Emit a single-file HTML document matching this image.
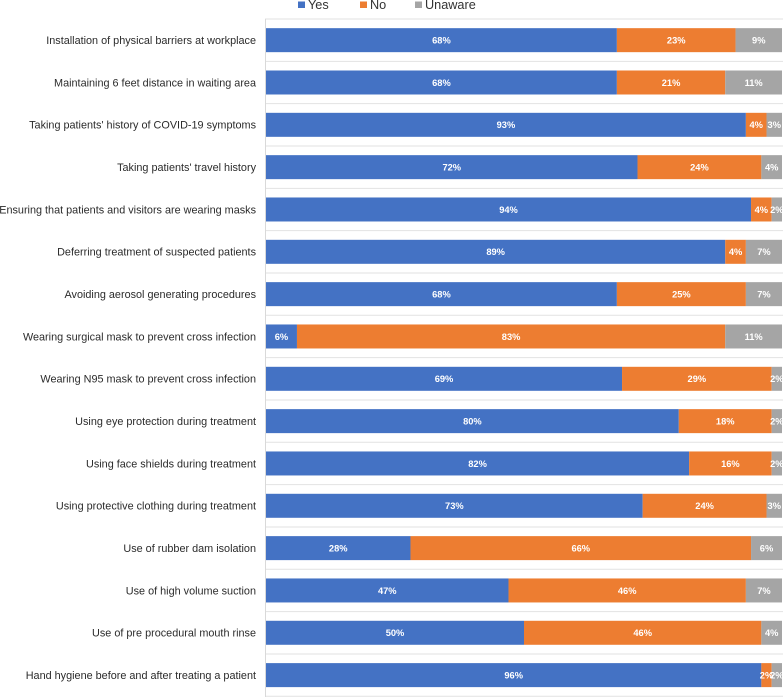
<!DOCTYPE html>
<html>
<head>
<meta charset="utf-8">
<style>
html,body{margin:0;padding:0;background:#fff;width:783px;height:697px;overflow:hidden}
svg{display:block;font-family:"Liberation Sans",sans-serif}
</style>
</head>
<body>
<svg id="chart" width="783" height="697" viewBox="0 0 783 697" xmlns="http://www.w3.org/2000/svg"></svg>
<script>
const categories = [
  "Installation of physical barriers at workplace",
  "Maintaining 6 feet distance in waiting area",
  "Taking patients' history of COVID-19 symptoms",
  "Taking patients' travel history",
  "Ensuring that patients and visitors are wearing masks",
  "Deferring treatment of suspected patients",
  "Avoiding aerosol generating procedures",
  "Wearing surgical mask to prevent cross infection",
  "Wearing N95 mask to prevent cross infection",
  "Using eye protection during treatment",
  "Using face shields during treatment",
  "Using protective clothing during treatment",
  "Use of rubber dam isolation",
  "Use of high volume suction",
  "Use of pre procedural mouth rinse",
  "Hand hygiene before and after treating a patient"
];
const seriesNames = ["Yes", "No", "Unaware"];
const yesValues = [68, 68, 93, 72, 94, 89, 68, 6, 69, 80, 82, 73, 28, 47, 50, 96];
const noValues = [23, 21, 4, 24, 4, 4, 25, 83, 29, 18, 16, 24, 66, 46, 46, 2];
const unawareValues = [9, 11, 3, 4, 2, 7, 7, 11, 2, 2, 2, 3, 6, 7, 4, 2];
const seriesValues = [yesValues, noValues, unawareValues];
const seriesColors = ["#4472c4", "#ed7d31", "#a5a5a5"];

const svg = document.getElementById('chart');
const NS = 'http://www.w3.org/2000/svg';
const plotLeft = 266, plotRight = 782, plotTop = 19, band = 42.33, barHeight = 24;
const xScale = v => plotLeft + (plotRight - plotLeft) * v / 100;
const bandTop = i => plotTop + band * i;
const make = (tag, attrs, txt) => {
  const el = document.createElementNS(NS, tag);
  for (const k in attrs) el.setAttribute(k, attrs[k]);
  if (txt !== undefined) el.textContent = txt;
  return el;
};

// gridlines
for (let i = 0; i <= categories.length; i++) {
  const y = bandTop(i);
  const g = make('line', {x1: plotLeft - 1, x2: 783, y1: y, y2: y, stroke: '#e2e2e2', 'stroke-width': 1});
  
  
  svg.appendChild(g);
}
const axis = make('line', {x1: 265.5, x2: 265.5, y1: plotTop, y2: 697, stroke: '#d9d9d9', 'stroke-width': 1});


svg.appendChild(axis);

// rows
categories.forEach((cat, i) => {
  const cy = bandTop(i) + band / 2;
  const label = make('text', {x: 256, y: cy + 3.9, 'text-anchor': 'end', 'font-size': 10.85, fill: '#2b2b2b'}, cat);
  
  
  svg.appendChild(label);

  let cum = 0;
  seriesValues.forEach((vals, s) => {
    const v = vals[i];
    const x0 = xScale(cum), x1 = xScale(cum + v);
    const r = make('rect', {x: x0, y: cy - barHeight / 2, width: x1 - x0, height: barHeight, fill: seriesColors[s]});
    
    
    svg.appendChild(r);
    cum += v;
  });
  cum = 0;
  seriesValues.forEach((vals, s) => {
    const v = vals[i];
    const t = make('text', {x: (xScale(cum) + xScale(cum + v)) / 2, y: cy + 3.4, 'text-anchor': 'middle', 'font-size': 9.3, 'font-weight': 'bold', fill: '#fff'}, v + '%');
    
    
    svg.appendChild(t);
    cum += v;
  });
});

// legend
const legendSwatchX = [298, 360, 415];
seriesNames.forEach((name, s) => {
  const sw = make('rect', {x: legendSwatchX[s], y: 1.5, width: 7, height: 6.5, fill: seriesColors[s]});
  
  
  svg.appendChild(sw);
  const t = make('text', {x: legendSwatchX[s] + 10, y: 9, 'font-size': 12.7, fill: '#333'}, name);
  
  
  svg.appendChild(t);
});
</script>
</body>
</html>
